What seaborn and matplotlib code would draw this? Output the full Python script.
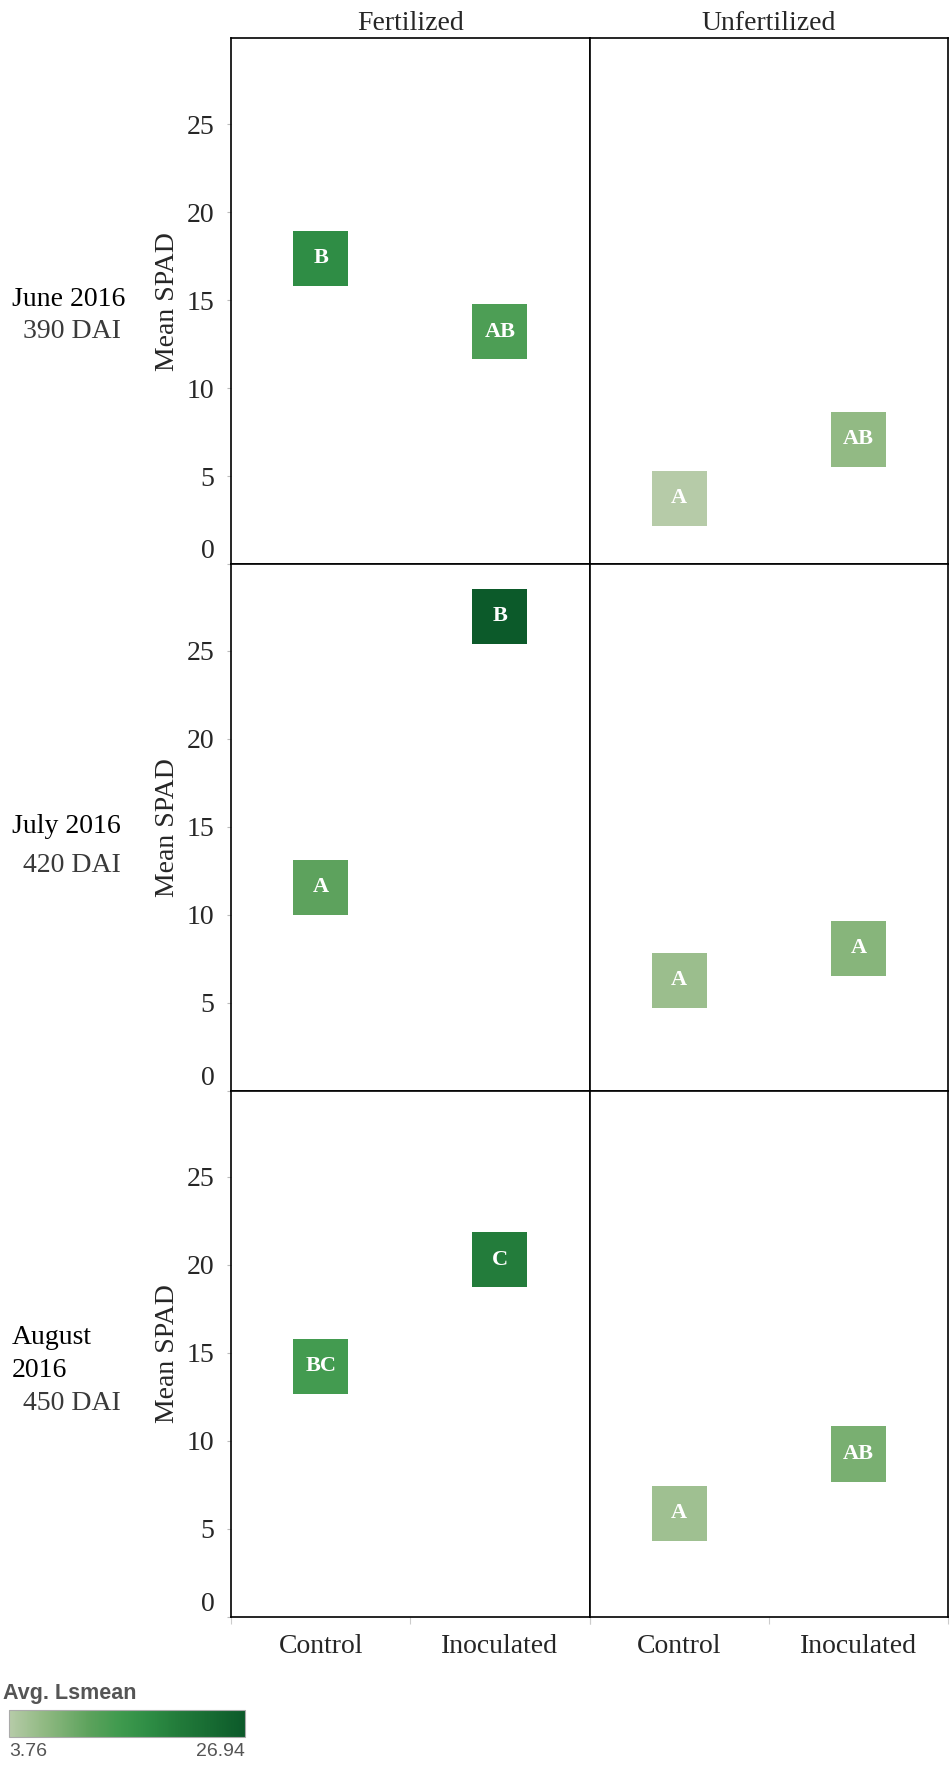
import seaborn as sns
import matplotlib.pyplot as plt
import matplotlib as mpl
import pandas as pd
import numpy as np
from matplotlib.colors import LinearSegmentedColormap, Normalize

months = ["June 2016", "July 2016", "August\n2016"]
dai = ["390 DAI", "420 DAI", "450 DAI"]
fert_levels = ["Fertilized", "Unfertilized"]
treatments = ["Control", "Inoculated"]

# mean SPAD per month: [fertilized control, fertilized inoculated], [unfertilized control, unfertilized inoculated]
june_fert = [17.39, 13.21]
june_unfert = [3.76, 7.10]
july_fert = [11.55, 26.94]
july_unfert = [6.27, 8.10]
aug_fert = [14.24, 20.30]
aug_unfert = [5.90, 9.26]

june_fert_let = ["B", "AB"]
june_unfert_let = ["A", "AB"]
july_fert_let = ["A", "B"]
july_unfert_let = ["A", "A"]
aug_fert_let = ["BC", "C"]
aug_unfert_let = ["A", "AB"]

lsmean_min = 3.76
lsmean_max = 26.94

rows = []
vals = [[june_fert, june_unfert], [july_fert, july_unfert], [aug_fert, aug_unfert]]
lets = [[june_fert_let, june_unfert_let], [july_fert_let, july_unfert_let], [aug_fert_let, aug_unfert_let]]
for m in range(3):
    for f in range(2):
        for t in range(2):
            rows.append({"month": m, "fert": fert_levels[f], "treatment": treatments[t],
                         "value": vals[m][f][t], "letter": lets[m][f][t]})
df = pd.DataFrame(rows)

sns.set_theme(style="white")
plt.rcParams["font.family"] = ["Liberation Serif", "DejaVu Serif"]

cmap = LinearSegmentedColormap.from_list("tab_green", [
    (0.0, "#b6cba8"), (0.15, "#90b982"), (0.34, "#5ca25c"), (0.47, "#3f9a4e"),
    (0.6, "#2d8c44"), (0.72, "#227b3a"), (1.0, "#0c5a2a")])
norm = Normalize(lsmean_min, lsmean_max)

fig, axes = plt.subplots(3, 2, figsize=(9.5, 17.7), dpi=100, sharey=True)
fig.subplots_adjust(left=231 / 950, right=948 / 950, top=1 - 38 / 1770, bottom=1 - 1617 / 1770,
                    wspace=0, hspace=0)

for m in range(3):
    for f in range(2):
        ax = axes[m, f]
        sub = df[(df["month"] == m) & (df["fert"] == fert_levels[f])]
        sns.scatterplot(data=sub, x="treatment", y="value", hue="value", palette=cmap,
                        hue_norm=norm, marker="s", s=1570, linewidth=0, legend=False, ax=ax)
        for i, (v, l) in enumerate(zip(sub["value"], sub["letter"])):
            ax.text(i, v, l, ha="center", va="center", color="white", fontsize=16,
                    fontweight="bold", family=["Liberation Serif"])
        ax.set_xlim(-0.5, 1.5)
        ax.set_ylim(0, 29.9)
        ax.set_xlabel("")
        ax.set_ylabel("")
        ax.set_xticks([0, 1])
        ax.set_xticks([-0.5, 0.5, 1.5], minor=True)
        ax.tick_params(axis="x", which="major", length=0, pad=12, labelsize=20)
        ax.tick_params(axis="x", which="minor", length=5, color="#cccccc", width=0.8, bottom=True)
        if m < 2:
            ax.tick_params(axis="x", which="both", labelbottom=False, bottom=False)
        for sp in ax.spines.values():
            sp.set_visible(True)
            sp.set_color("black")
            sp.set_linewidth(1.2)
        if m == 0:
            ax.set_title(fert_levels[f], fontsize=20, pad=6)
        if f == 0:
            ax.set_yticks([0, 5, 10, 15, 20, 25])
            ax.tick_params(axis="y", which="major", left=True, length=3, color="#bbbbbb",
                           width=0.8, pad=9, labelsize=20)
            ax.yaxis.get_major_ticks()[0].label1.set_verticalalignment("bottom")
            ax.set_ylabel("Mean SPAD", fontsize=20)
            ax.yaxis.set_label_coords(-0.178, 0.5)
            ax.yaxis.label.set_verticalalignment("center")
        else:
            ax.tick_params(axis="y", left=False, labelleft=False)

# row labels
first_y = [300, 827, 1325]
dai_y = [332, 866, 1403]
for m in range(3):
    fig.text(12 / 950, 1 - first_y[m] / 1770, months[m], ha="left",
             va="top" if m == 2 else "center", fontsize=20, color="black", linespacing=1.4)
    fig.text(23 / 950, 1 - dai_y[m] / 1770, dai[m], ha="left", va="center",
             fontsize=20, color="#3a3a3a")

# colour legend
cax = fig.add_axes([9 / 950, 1 - 1737 / 1770, 236 / 950, 27 / 1770])
cb = fig.colorbar(mpl.cm.ScalarMappable(norm=norm, cmap=cmap), cax=cax, orientation="horizontal")
cb.set_ticks([])
cb.outline.set_edgecolor("#aaaaaa")
cb.outline.set_linewidth(0.8)
fig.text(3 / 950, 1 - 1693 / 1770, "Avg. Lsmean", ha="left", va="center", fontsize=15.5,
         fontweight="bold", color="#555555", family=["Liberation Sans"])
fig.text(9 / 950, 1 - 1751 / 1770, f"{lsmean_min:.2f}", ha="left", va="center", fontsize=14,
         color="#555555", family=["Liberation Sans"])
fig.text(245 / 950, 1 - 1751 / 1770, f"{lsmean_max:.2f}", ha="right", va="center", fontsize=14,
         color="#555555", family=["Liberation Sans"])

plt.savefig("out.png", dpi=100)
plt.close()
